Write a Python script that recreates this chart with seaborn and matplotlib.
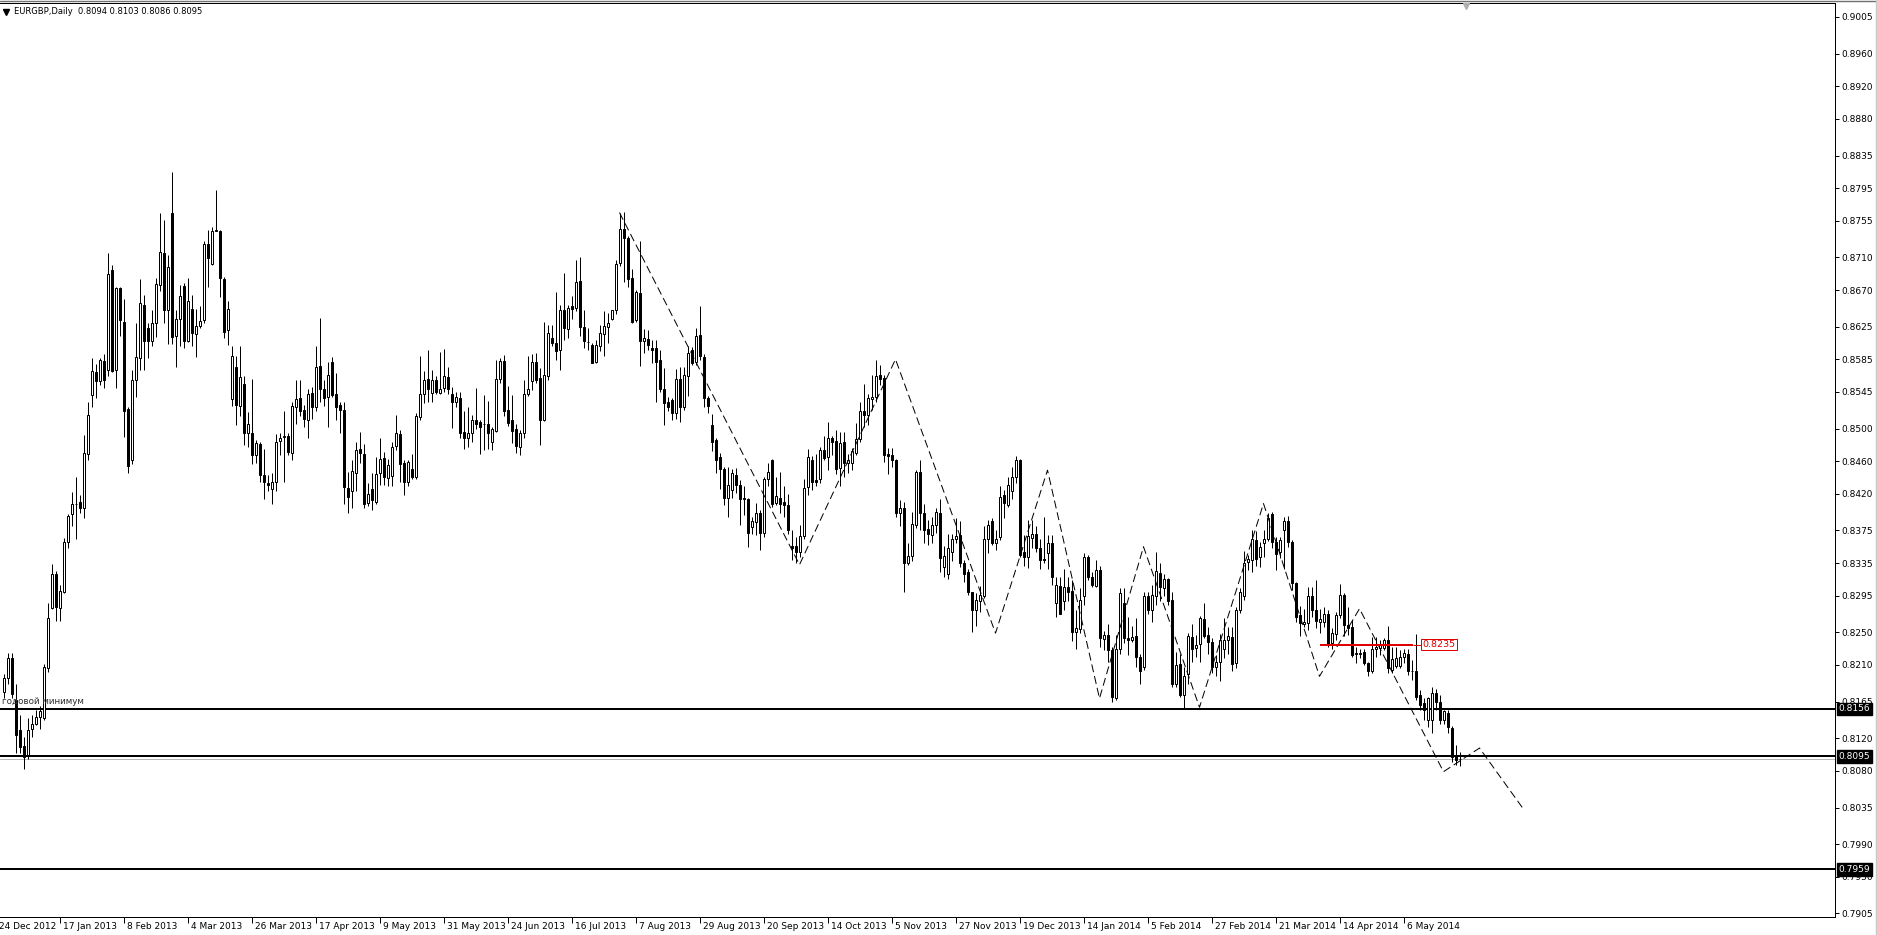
import matplotlib
matplotlib.use("Agg")
import matplotlib.pyplot as plt
from matplotlib.lines import Line2D
import numpy as np
import pandas as pd
import seaborn as sns

# ---------------- data ----------------
header_text = "EURGBP,Daily  0.8094 0.8103 0.8086 0.8095"

opens = [
    0.8177, 0.8194, 0.8219, 0.8167, 0.8130, 0.8110, 0.8099, 0.8131, 0.8138, 0.8146,
    0.8145, 0.8206, 0.8280, 0.8322, 0.8280, 0.8300, 0.8361, 0.8395, 0.8407, 0.8410,
    0.8402, 0.8469, 0.8541, 0.8570, 0.8558, 0.8583, 0.8572, 0.8695, 0.8572, 0.8673,
    0.8631, 0.8524, 0.8461, 0.8559, 0.8587, 0.8652, 0.8623, 0.8607, 0.8630, 0.8676,
    0.8715, 0.8646, 0.8765, 0.8613, 0.8634, 0.8675, 0.8608, 0.8647, 0.8616, 0.8626,
    0.8633, 0.8726, 0.8702, 0.8743, 0.8743, 0.8684, 0.8621, 0.8536, 0.8576, 0.8528,
    0.8555, 0.8495, 0.8495, 0.8468, 0.8481, 0.8443, 0.8433, 0.8426, 0.8435, 0.8485,
    0.8490, 0.8491, 0.8470, 0.8527, 0.8537, 0.8523, 0.8511, 0.8544, 0.8527, 0.8577,
    0.8549, 0.8539, 0.8582, 0.8543, 0.8529, 0.8523, 0.8427, 0.8423, 0.8446, 0.8475,
    0.8469, 0.8409, 0.8426, 0.8410, 0.8445, 0.8464, 0.8439, 0.8442, 0.8479, 0.8493,
    0.8458, 0.8434, 0.8451, 0.8441, 0.8514, 0.8542, 0.8561, 0.8544, 0.8560, 0.8544,
    0.8550, 0.8563, 0.8542, 0.8532, 0.8538, 0.8496, 0.8488, 0.8494, 0.8511, 0.8508,
    0.8505, 0.8506, 0.8483, 0.8497, 0.8561, 0.8583, 0.8523, 0.8511, 0.8499, 0.8478,
    0.8495, 0.8543, 0.8558, 0.8582, 0.8562, 0.8511, 0.8565, 0.8611, 0.8605, 0.8596,
    0.8645, 0.8622, 0.8650, 0.8648, 0.8681, 0.8625, 0.8606, 0.8602, 0.8582, 0.8601,
    0.8616, 0.8625, 0.8635, 0.8646, 0.8703, 0.8745, 0.8734, 0.8685, 0.8633, 0.8666,
    0.8608, 0.8610, 0.8599, 0.8599, 0.8584, 0.8549, 0.8533, 0.8535, 0.8519, 0.8561,
    0.8527, 0.8565, 0.8597, 0.8582, 0.8615, 0.8588, 0.8538, 0.8504, 0.8486, 0.8465,
    0.8451, 0.8415, 0.8425, 0.8443, 0.8431, 0.8415, 0.8413, 0.8379, 0.8385, 0.8397,
    0.8372, 0.8438, 0.8462, 0.8409, 0.8415, 0.8410, 0.8406, 0.8356, 0.8356, 0.8349,
    0.8368, 0.8428, 0.8462, 0.8437, 0.8438, 0.8474, 0.8465, 0.8489, 0.8485, 0.8452,
    0.8484, 0.8458, 0.8458, 0.8470, 0.8487, 0.8521, 0.8517, 0.8536, 0.8539, 0.8566,
    0.8562, 0.8469, 0.8468, 0.8461, 0.8397, 0.8403, 0.8335, 0.8344, 0.8382, 0.8447,
    0.8397, 0.8377, 0.8370, 0.8382, 0.8397, 0.8330, 0.8322, 0.8348, 0.8365, 0.8369,
    0.8335, 0.8324, 0.8299, 0.8277, 0.8289, 0.8294, 0.8365, 0.8387, 0.8359, 0.8367,
    0.8419, 0.8406, 0.8423, 0.8441, 0.8462, 0.8349, 0.8343, 0.8366, 0.8371, 0.8353,
    0.8340, 0.8347, 0.8359, 0.8286, 0.8307, 0.8288, 0.8306, 0.8301, 0.8251, 0.8254,
    0.8294, 0.8342, 0.8318, 0.8307, 0.8327, 0.8242, 0.8247, 0.8228, 0.8170, 0.8230,
    0.8286, 0.8243, 0.8241, 0.8245, 0.8220, 0.8208, 0.8295, 0.8278, 0.8294, 0.8323,
    0.8304, 0.8316, 0.8290, 0.8187, 0.8211, 0.8173, 0.8199, 0.8244, 0.8231, 0.8236,
    0.8266, 0.8247, 0.8238, 0.8208, 0.8213, 0.8230, 0.8241, 0.8244, 0.8212, 0.8278,
    0.8295, 0.8336, 0.8339, 0.8363, 0.8342, 0.8359, 0.8365, 0.8395, 0.8361, 0.8348,
    0.8375, 0.8386, 0.8361, 0.8311, 0.8271, 0.8260, 0.8261, 0.8294, 0.8278, 0.8263,
    0.8263, 0.8273, 0.8237, 0.8248, 0.8271, 0.8296, 0.8259, 0.8256, 0.8224, 0.8224,
    0.8226, 0.8212, 0.8203, 0.8230, 0.8231, 0.8231, 0.8240, 0.8204, 0.8209, 0.8209,
    0.8220, 0.8224, 0.8202, 0.8203, 0.8173, 0.8163, 0.8142, 0.8142, 0.8176, 0.8165,
    0.8142, 0.8151, 0.8133, 0.8099, 0.8094,
]

highs = [
    0.8199, 0.8225, 0.8225, 0.8187, 0.8148, 0.8121, 0.8145, 0.8148, 0.8155, 0.8160,
    0.8211, 0.8286, 0.8334, 0.8325, 0.8308, 0.8366, 0.8395, 0.8422, 0.8441, 0.8419,
    0.8492, 0.8533, 0.8587, 0.8579, 0.8587, 0.8592, 0.8715, 0.8701, 0.8674, 0.8674,
    0.8659, 0.8526, 0.8572, 0.8630, 0.8684, 0.8664, 0.8630, 0.8646, 0.8685, 0.8764,
    0.8756, 0.8713, 0.8815, 0.8646, 0.8676, 0.8679, 0.8685, 0.8664, 0.8647, 0.8650,
    0.8730, 0.8744, 0.8747, 0.8793, 0.8744, 0.8686, 0.8657, 0.8601, 0.8589, 0.8601,
    0.8565, 0.8520, 0.8561, 0.8486, 0.8484, 0.8475, 0.8443, 0.8446, 0.8493, 0.8494,
    0.8521, 0.8494, 0.8533, 0.8560, 0.8560, 0.8529, 0.8548, 0.8551, 0.8601, 0.8636,
    0.8560, 0.8582, 0.8588, 0.8568, 0.8533, 0.8532, 0.8447, 0.8461, 0.8484, 0.8496,
    0.8481, 0.8433, 0.8445, 0.8465, 0.8488, 0.8471, 0.8463, 0.8483, 0.8517, 0.8498,
    0.8461, 0.8462, 0.8469, 0.8519, 0.8589, 0.8571, 0.8596, 0.8572, 0.8564, 0.8594,
    0.8598, 0.8576, 0.8551, 0.8545, 0.8545, 0.8521, 0.8527, 0.8517, 0.8550, 0.8511,
    0.8541, 0.8534, 0.8502, 0.8584, 0.8587, 0.8590, 0.8552, 0.8541, 0.8506, 0.8498,
    0.8560, 0.8589, 0.8592, 0.8593, 0.8574, 0.8631, 0.8627, 0.8627, 0.8668, 0.8652,
    0.8691, 0.8652, 0.8663, 0.8707, 0.8711, 0.8645, 0.8623, 0.8605, 0.8609, 0.8627,
    0.8644, 0.8642, 0.8646, 0.8707, 0.8764, 0.8766, 0.8736, 0.8696, 0.8670, 0.8730,
    0.8622, 0.8621, 0.8609, 0.8609, 0.8597, 0.8574, 0.8539, 0.8538, 0.8573, 0.8576,
    0.8576, 0.8601, 0.8600, 0.8624, 0.8650, 0.8592, 0.8540, 0.8518, 0.8488, 0.8470,
    0.8453, 0.8453, 0.8450, 0.8452, 0.8437, 0.8429, 0.8415, 0.8392, 0.8409, 0.8400,
    0.8441, 0.8458, 0.8463, 0.8441, 0.8447, 0.8429, 0.8420, 0.8375, 0.8367, 0.8382,
    0.8438, 0.8475, 0.8466, 0.8469, 0.8478, 0.8491, 0.8508, 0.8491, 0.8498, 0.8496,
    0.8496, 0.8469, 0.8476, 0.8507, 0.8533, 0.8555, 0.8543, 0.8566, 0.8584, 0.8578,
    0.8566, 0.8476, 0.8476, 0.8463, 0.8412, 0.8410, 0.8359, 0.8398, 0.8449, 0.8461,
    0.8408, 0.8388, 0.8392, 0.8402, 0.8414, 0.8356, 0.8371, 0.8371, 0.8390, 0.8386,
    0.8339, 0.8328, 0.8300, 0.8298, 0.8307, 0.8380, 0.8388, 0.8390, 0.8375, 0.8430,
    0.8425, 0.8441, 0.8453, 0.8466, 0.8463, 0.8369, 0.8388, 0.8388, 0.8380, 0.8365,
    0.8392, 0.8369, 0.8369, 0.8318, 0.8318, 0.8328, 0.8318, 0.8314, 0.8277, 0.8304,
    0.8347, 0.8345, 0.8324, 0.8339, 0.8331, 0.8252, 0.8260, 0.8232, 0.8247, 0.8304,
    0.8304, 0.8269, 0.8258, 0.8267, 0.8224, 0.8300, 0.8300, 0.8308, 0.8349, 0.8335,
    0.8322, 0.8317, 0.8299, 0.8226, 0.8224, 0.8208, 0.8249, 0.8260, 0.8247, 0.8270,
    0.8286, 0.8256, 0.8243, 0.8222, 0.8248, 0.8267, 0.8257, 0.8257, 0.8281, 0.8304,
    0.8350, 0.8345, 0.8376, 0.8374, 0.8361, 0.8375, 0.8396, 0.8398, 0.8367, 0.8367,
    0.8392, 0.8393, 0.8363, 0.8312, 0.8282, 0.8279, 0.8306, 0.8306, 0.8314, 0.8279,
    0.8281, 0.8277, 0.8255, 0.8275, 0.8309, 0.8298, 0.8281, 0.8265, 0.8232, 0.8230,
    0.8229, 0.8214, 0.8244, 0.8244, 0.8241, 0.8243, 0.8258, 0.8232, 0.8232, 0.8228,
    0.8230, 0.8230, 0.8216, 0.8248, 0.8179, 0.8169, 0.8171, 0.8183, 0.8181, 0.8173,
    0.8155, 0.8155, 0.8135, 0.8112, 0.8103,
]

lows = [
    0.8170, 0.8187, 0.8170, 0.8102, 0.8102, 0.8082, 0.8094, 0.8121, 0.8136, 0.8131,
    0.8143, 0.8201, 0.8279, 0.8264, 0.8264, 0.8298, 0.8354, 0.8381, 0.8364, 0.8397,
    0.8390, 0.8461, 0.8526, 0.8538, 0.8553, 0.8550, 0.8565, 0.8570, 0.8550, 0.8613,
    0.8490, 0.8446, 0.8456, 0.8539, 0.8572, 0.8572, 0.8587, 0.8601, 0.8612, 0.8669,
    0.8630, 0.8604, 0.8604, 0.8576, 0.8601, 0.8599, 0.8606, 0.8601, 0.8588, 0.8623,
    0.8630, 0.8674, 0.8701, 0.8742, 0.8662, 0.8611, 0.8602, 0.8528, 0.8504, 0.8516,
    0.8480, 0.8478, 0.8457, 0.8458, 0.8435, 0.8413, 0.8424, 0.8407, 0.8424, 0.8467,
    0.8435, 0.8467, 0.8461, 0.8506, 0.8515, 0.8502, 0.8489, 0.8512, 0.8522, 0.8533,
    0.8528, 0.8502, 0.8539, 0.8510, 0.8495, 0.8408, 0.8397, 0.8403, 0.8424, 0.8458,
    0.8403, 0.8405, 0.8400, 0.8407, 0.8431, 0.8431, 0.8429, 0.8430, 0.8474, 0.8435,
    0.8419, 0.8429, 0.8438, 0.8438, 0.8510, 0.8531, 0.8533, 0.8533, 0.8543, 0.8543,
    0.8545, 0.8543, 0.8501, 0.8527, 0.8489, 0.8475, 0.8478, 0.8484, 0.8499, 0.8469,
    0.8474, 0.8475, 0.8474, 0.8496, 0.8556, 0.8516, 0.8503, 0.8482, 0.8470, 0.8468,
    0.8488, 0.8540, 0.8547, 0.8556, 0.8480, 0.8509, 0.8560, 0.8601, 0.8584, 0.8572,
    0.8609, 0.8611, 0.8635, 0.8644, 0.8613, 0.8599, 0.8597, 0.8580, 0.8580, 0.8595,
    0.8589, 0.8605, 0.8633, 0.8640, 0.8700, 0.8680, 0.8674, 0.8629, 0.8631, 0.8577,
    0.8593, 0.8596, 0.8580, 0.8533, 0.8545, 0.8504, 0.8521, 0.8511, 0.8512, 0.8508,
    0.8523, 0.8540, 0.8578, 0.8578, 0.8584, 0.8527, 0.8519, 0.8472, 0.8445, 0.8426,
    0.8406, 0.8392, 0.8415, 0.8421, 0.8382, 0.8394, 0.8355, 0.8371, 0.8369, 0.8351,
    0.8367, 0.8429, 0.8404, 0.8406, 0.8397, 0.8392, 0.8371, 0.8339, 0.8335, 0.8343,
    0.8365, 0.8419, 0.8425, 0.8430, 0.8433, 0.8461, 0.8449, 0.8467, 0.8444, 0.8429,
    0.8441, 0.8445, 0.8449, 0.8468, 0.8484, 0.8502, 0.8504, 0.8523, 0.8533, 0.8553,
    0.8459, 0.8444, 0.8453, 0.8391, 0.8380, 0.8300, 0.8333, 0.8338, 0.8378, 0.8376,
    0.8359, 0.8357, 0.8359, 0.8372, 0.8324, 0.8318, 0.8316, 0.8337, 0.8359, 0.8330,
    0.8312, 0.8296, 0.8251, 0.8258, 0.8275, 0.8292, 0.8347, 0.8357, 0.8351, 0.8363,
    0.8390, 0.8404, 0.8414, 0.8433, 0.8343, 0.8331, 0.8329, 0.8353, 0.8349, 0.8328,
    0.8335, 0.8328, 0.8308, 0.8269, 0.8272, 0.8277, 0.8289, 0.8239, 0.8230, 0.8249,
    0.8283, 0.8314, 0.8306, 0.8305, 0.8232, 0.8228, 0.8214, 0.8164, 0.8167, 0.8224,
    0.8237, 0.8222, 0.8238, 0.8208, 0.8187, 0.8204, 0.8273, 0.8263, 0.8283, 0.8288,
    0.8294, 0.8284, 0.8183, 0.8183, 0.8171, 0.8156, 0.8187, 0.8214, 0.8220, 0.8214,
    0.8243, 0.8224, 0.8200, 0.8196, 0.8190, 0.8219, 0.8224, 0.8202, 0.8206, 0.8274,
    0.8290, 0.8326, 0.8324, 0.8331, 0.8330, 0.8343, 0.8362, 0.8353, 0.8327, 0.8341,
    0.8328, 0.8355, 0.8302, 0.8263, 0.8245, 0.8257, 0.8253, 0.8269, 0.8255, 0.8249,
    0.8257, 0.8232, 0.8230, 0.8241, 0.8267, 0.8245, 0.8247, 0.8220, 0.8212, 0.8218,
    0.8210, 0.8196, 0.8200, 0.8220, 0.8222, 0.8228, 0.8200, 0.8200, 0.8206, 0.8206,
    0.8212, 0.8198, 0.8191, 0.8167, 0.8155, 0.8142, 0.8134, 0.8126, 0.8155, 0.8138,
    0.8138, 0.8126, 0.8091, 0.8087, 0.8086,
]

closes = [
    0.8194, 0.8218, 0.8174, 0.8124, 0.8109, 0.8097, 0.8130, 0.8138, 0.8146, 0.8153,
    0.8207, 0.8268, 0.8322, 0.8281, 0.8301, 0.8361, 0.8393, 0.8408, 0.8408, 0.8402,
    0.8470, 0.8517, 0.8571, 0.8558, 0.8584, 0.8560, 0.8690, 0.8571, 0.8672, 0.8633,
    0.8522, 0.8454, 0.8559, 0.8588, 0.8654, 0.8608, 0.8608, 0.8630, 0.8678, 0.8717,
    0.8645, 0.8698, 0.8612, 0.8635, 0.8663, 0.8607, 0.8656, 0.8617, 0.8626, 0.8632,
    0.8727, 0.8709, 0.8743, 0.8744, 0.8685, 0.8619, 0.8647, 0.8589, 0.8529, 0.8563,
    0.8495, 0.8505, 0.8468, 0.8482, 0.8443, 0.8434, 0.8431, 0.8435, 0.8484, 0.8489,
    0.8491, 0.8471, 0.8528, 0.8536, 0.8522, 0.8512, 0.8543, 0.8526, 0.8575, 0.8549,
    0.8538, 0.8566, 0.8541, 0.8527, 0.8523, 0.8428, 0.8416, 0.8448, 0.8474, 0.8470,
    0.8408, 0.8420, 0.8412, 0.8444, 0.8463, 0.8440, 0.8455, 0.8478, 0.8494, 0.8456,
    0.8435, 0.8459, 0.8441, 0.8515, 0.8542, 0.8560, 0.8549, 0.8560, 0.8545, 0.8549,
    0.8564, 0.8549, 0.8533, 0.8539, 0.8495, 0.8489, 0.8495, 0.8511, 0.8506, 0.8502,
    0.8506, 0.8495, 0.8499, 0.8561, 0.8583, 0.8521, 0.8507, 0.8497, 0.8479, 0.8495,
    0.8543, 0.8549, 0.8582, 0.8560, 0.8511, 0.8566, 0.8617, 0.8605, 0.8595, 0.8646,
    0.8623, 0.8648, 0.8647, 0.8680, 0.8625, 0.8607, 0.8606, 0.8581, 0.8603, 0.8617,
    0.8626, 0.8630, 0.8645, 0.8702, 0.8745, 0.8734, 0.8683, 0.8631, 0.8668, 0.8608,
    0.8611, 0.8603, 0.8597, 0.8582, 0.8549, 0.8531, 0.8526, 0.8519, 0.8561, 0.8527,
    0.8566, 0.8593, 0.8581, 0.8613, 0.8589, 0.8538, 0.8528, 0.8484, 0.8462, 0.8450,
    0.8415, 0.8431, 0.8445, 0.8431, 0.8413, 0.8413, 0.8372, 0.8386, 0.8397, 0.8372,
    0.8438, 0.8447, 0.8408, 0.8417, 0.8408, 0.8406, 0.8375, 0.8354, 0.8349, 0.8368,
    0.8427, 0.8465, 0.8435, 0.8435, 0.8474, 0.8464, 0.8488, 0.8483, 0.8451, 0.8482,
    0.8458, 0.8462, 0.8472, 0.8487, 0.8522, 0.8517, 0.8537, 0.8539, 0.8565, 0.8561,
    0.8468, 0.8466, 0.8461, 0.8396, 0.8402, 0.8335, 0.8344, 0.8383, 0.8447, 0.8397,
    0.8375, 0.8371, 0.8382, 0.8398, 0.8341, 0.8344, 0.8353, 0.8365, 0.8368, 0.8335,
    0.8322, 0.8300, 0.8278, 0.8290, 0.8296, 0.8364, 0.8382, 0.8359, 0.8365, 0.8416,
    0.8409, 0.8431, 0.8441, 0.8462, 0.8345, 0.8343, 0.8368, 0.8371, 0.8353, 0.8339,
    0.8339, 0.8359, 0.8318, 0.8308, 0.8273, 0.8306, 0.8299, 0.8251, 0.8255, 0.8290,
    0.8343, 0.8318, 0.8308, 0.8326, 0.8243, 0.8247, 0.8228, 0.8171, 0.8229, 0.8298,
    0.8243, 0.8241, 0.8244, 0.8220, 0.8202, 0.8294, 0.8278, 0.8296, 0.8325, 0.8306,
    0.8316, 0.8288, 0.8187, 0.8210, 0.8173, 0.8197, 0.8245, 0.8230, 0.8235, 0.8267,
    0.8245, 0.8238, 0.8207, 0.8213, 0.8241, 0.8241, 0.8245, 0.8211, 0.8278, 0.8300,
    0.8335, 0.8340, 0.8364, 0.8340, 0.8355, 0.8365, 0.8390, 0.8361, 0.8346, 0.8363,
    0.8386, 0.8361, 0.8310, 0.8269, 0.8262, 0.8263, 0.8294, 0.8278, 0.8264, 0.8266,
    0.8273, 0.8234, 0.8249, 0.8271, 0.8296, 0.8259, 0.8255, 0.8222, 0.8224, 0.8224,
    0.8212, 0.8202, 0.8230, 0.8232, 0.8235, 0.8241, 0.8206, 0.8217, 0.8219, 0.8220,
    0.8225, 0.8202, 0.8203, 0.8171, 0.8161, 0.8155, 0.8169, 0.8176, 0.8164, 0.8142,
    0.8153, 0.8134, 0.8097, 0.8093, 0.8095,
]

date_labels = [
    "24 Dec 2012", "17 Jan 2013", "8 Feb 2013", "4 Mar 2013", "26 Mar 2013",
    "17 Apr 2013", "9 May 2013", "31 May 2013", "24 Jun 2013", "16 Jul 2013",
    "7 Aug 2013", "29 Aug 2013", "20 Sep 2013", "14 Oct 2013", "5 Nov 2013",
    "27 Nov 2013", "19 Dec 2013", "14 Jan 2014", "5 Feb 2014", "27 Feb 2014",
    "21 Mar 2014", "14 Apr 2014", "6 May 2014",
]

price_ticks = [
    0.9005, 0.8960, 0.8920, 0.8880, 0.8835, 0.8795, 0.8755, 0.8710, 0.8670,
    0.8625, 0.8585, 0.8545, 0.8500, 0.8460, 0.8420, 0.8375, 0.8335, 0.8295,
    0.8250, 0.8210, 0.8165, 0.8120, 0.8080, 0.8035, 0.7990, 0.7950, 0.7905,
]

zigzag_bars = [154, 199, 223, 248, 261, 274, 285, 299, 315, 329, 339, 360, 369, 380]
zigzag_prices = [0.8765, 0.8333, 0.8585, 0.8249, 0.8449, 0.8169, 0.8355, 0.8158,
                 0.8408, 0.8196, 0.8279, 0.8079, 0.8108, 0.8033]

level_prices = [0.8156, 0.8098, 0.7959]
level_labels = ["0.8156", "0.8095", "0.7959"]
bid_price = 0.8094

red_level = 0.8235
red_label = "0.8235"
annotation_text = "годовой минимум"

# ---------------- layout ----------------
W, H, DPI = 1877, 935, 100
sns.set_theme(style="white")
plt.rcParams["font.family"] = ["DejaVu Sans"]
plt.rcParams["axes.linewidth"] = 0.72

fig = plt.figure(figsize=(W / DPI, H / DPI), dpi=DPI, facecolor="white")
PX_L, PX_R, PX_T, PX_B = 0, 1835, 3, 917
ax = fig.add_axes([PX_L / W, 1 - PX_B / H, (PX_R - PX_L) / W, (PX_B - PX_T) / H])
ax.set_facecolor("white")

BAR_PX, FIRST_PX = 4.0, 3.5          # bar centres on pixel centres
x_lo = (PX_L - FIRST_PX) / BAR_PX
x_hi = (PX_R - FIRST_PX) / BAR_PX
PX_PER_PRICE, P_REF, PX_REF = 8150.0, 0.9005, 17.0
y_hi = P_REF + (PX_REF - PX_T) / PX_PER_PRICE
y_lo = P_REF - (PX_B - PX_REF) / PX_PER_PRICE
ONE_PX = 72.0 / DPI

df = pd.DataFrame({"open": opens, "high": highs, "low": lows, "close": closes})
df["bar"] = np.arange(len(df))
bull = df["close"] >= df["open"]
body_bottom = df[["open", "close"]].min(axis=1)
body_h = (df["close"] - df["open"]).abs().clip(lower=0.00002)

# horizontal levels (behind candles)
for lvl in level_prices:
    ax.axhline(lvl, color="black", lw=2 * ONE_PX, zorder=2)
ax.axhline(bid_price, color="#b8b8b8", lw=ONE_PX, zorder=1.5)

# candles
ax.vlines(df["bar"], df["low"], df["high"], colors="black", linewidth=ONE_PX,
          zorder=3)
ax.bar(df["bar"][bull], body_h[bull], bottom=body_bottom[bull], width=0.5,
       color="white", edgecolor="black", linewidth=ONE_PX, zorder=4)
ax.bar(df["bar"][~bull], body_h[~bull], bottom=body_bottom[~bull], width=0.5,
       color="black", edgecolor="black", linewidth=ONE_PX, zorder=4)

ax.text(x_lo + 0.4, 0.8159, annotation_text, fontsize=6.3, color="#303030",
        ha="left", va="bottom", zorder=4.5)

# dashed zigzag
sns.lineplot(x=zigzag_bars, y=zigzag_prices, ax=ax, color="black", linewidth=ONE_PX,
             linestyle=(0, (8, 4)), sort=False, estimator=None, zorder=5)

# red level with label
red_start, red_end, red_box = 329, 352.3, 354.4
ax.hlines(red_level, red_start, red_end, color="#e00000", lw=2 * ONE_PX, zorder=6)
ax.hlines(red_level, red_end, red_box, color="#e00000", lw=ONE_PX, zorder=6)
ax.text(red_box + 0.35, red_level, red_label, color="#e00000", fontsize=6.8,
        ha="left", va="center", zorder=7,
        bbox=dict(boxstyle="square,pad=0.12", fc="white", ec="#e00000", lw=ONE_PX))

ax.set_xlim(x_lo, x_hi)
ax.set_ylim(y_lo, y_hi)
ax.set_xlabel("")
ax.set_ylabel("")

# right price scale
ax.yaxis.tick_right()
ax.set_yticks(price_ticks)
ax.set_yticklabels([f"{v:.4f}" for v in price_ticks])
ax.tick_params(axis="y", which="both", direction="out", length=3, width=ONE_PX,
               pad=1.5, labelsize=6.5, colors="black", right=True, left=False)

ytrans = ax.get_yaxis_transform()
for lvl, lab in zip(level_prices, level_labels):
    ax.text(1 + 3.5 / (PX_R - PX_L), lvl, lab, transform=ytrans, ha="left",
            va="center", fontsize=6.5, color="white", clip_on=False, zorder=10,
            bbox=dict(boxstyle="square,pad=0.2", fc="black", ec="black"))

# bottom time scale
tick_bars = [-2 + 16 * m for m in range(len(date_labels))]
ax.set_xticks([b for b in tick_bars if b >= x_lo])
ax.set_xticklabels([])
ax.tick_params(axis="x", direction="out", length=4, width=ONE_PX, bottom=True,
               colors="black")
xtrans = ax.get_xaxis_transform()
for b, lab in zip(tick_bars, date_labels):
    ax.text(b + 0.8, -9.5 / (PX_B - PX_T), lab, transform=xtrans, ha="left",
            va="center", fontsize=6.5, color="black", clip_on=False)

for side in ["top", "right", "bottom"]:
    ax.spines[side].set_visible(True)
    ax.spines[side].set_color("black")
    ax.spines[side].set_linewidth(ONE_PX)
ax.spines["left"].set_visible(False)

# header and window decorations
fig.text(14 / W, 1 - 12 / H, header_text, fontsize=6.0, ha="left", va="center",
         color="black")
fig.add_artist(Line2D([6 / W], [1 - 12 / H], marker="v", markersize=4,
                      color="black", transform=fig.transFigure))
fig.add_artist(Line2D([0, 1], [1 - 0.6 / H] * 2, color="#707070", lw=1,
                      transform=fig.transFigure))
fig.add_artist(Line2D([1875.5 / W] * 2, [0, 1], color="#c8c8c8", lw=1,
                      transform=fig.transFigure))
fig.add_artist(Line2D([1466 / W], [1 - 6 / H], marker="v", markersize=5,
                      color="#b0b0b0", transform=fig.transFigure))

fig.savefig("out.png", dpi=DPI, facecolor="white")
